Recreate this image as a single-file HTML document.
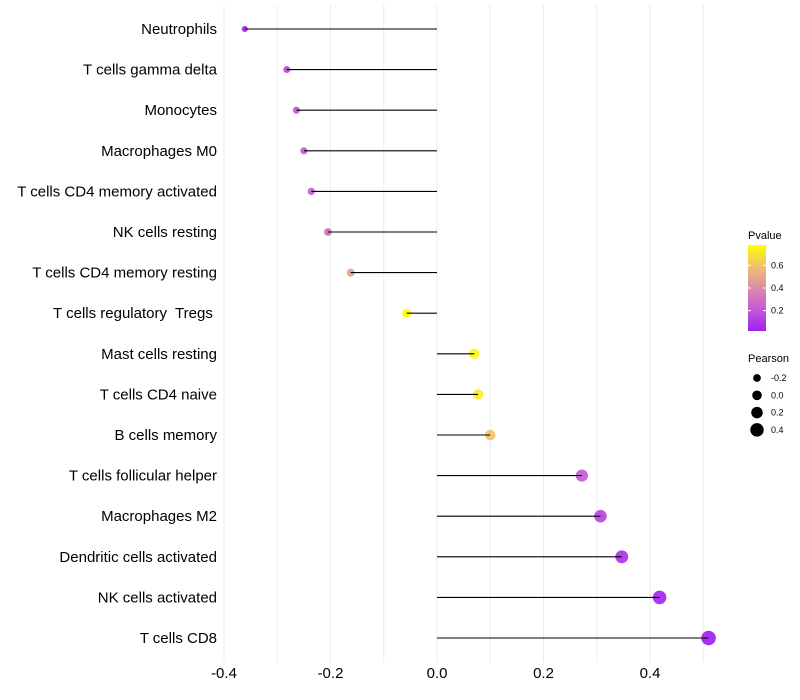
<!DOCTYPE html>
<html><head><meta charset="utf-8"><style>
body{margin:0;background:#fff;}
svg{display:block;font-family:"Liberation Sans",sans-serif;}
</style></head><body>
<svg id="chart" width="800" height="700"></svg>
<script>
const categories=["Neutrophils","T cells gamma delta","Monocytes","Macrophages M0","T cells CD4 memory activated","NK cells resting","T cells CD4 memory resting","T cells regulatory  Tregs ","Mast cells resting","T cells CD4 naive","B cells memory","T cells follicular helper","Macrophages M2","Dendritic cells activated","NK cells activated","T cells CD8"];
const pearson=[-0.361,-0.282,-0.264,-0.250,-0.236,-0.205,-0.162,-0.057,0.070,0.077,0.100,0.272,0.307,0.347,0.418,0.510];
const pvalues=[0.04,0.14,0.2,0.21,0.22,0.3,0.48,0.78,0.74,0.72,0.6,0.22,0.14,0.08,0.04,0.02];
const xTicks=[-0.4,-0.2,0.0,0.2,0.4];
const xMinor=[-0.3,-0.1,0.1,0.3,0.5];
const pTicks=[0.2,0.4,0.6];
const sizeTicks=[-0.2,0.0,0.2,0.4];

const NS="http://www.w3.org/2000/svg";
const svg=document.getElementById('chart');
function mk(tag,attrs,parent){const e=document.createElementNS(NS,tag);for(const k in attrs)e.setAttribute(k,attrs[k]);(parent||svg).appendChild(e);return e;}
const x=v=>437+v*532.5;
const y=i=>29+i*40.6;
const r=v=>4.8+4.8*v;
const stops=[[160,32,240],[196,90,216],[220,140,168],[240,192,112],[255,255,0]];
const pcol=p=>{let t=Math.max(0,Math.min(1,(p-0.02)/0.76))*(stops.length-1);const k=Math.min(stops.length-2,Math.floor(t));const f=t-k;
return `rgb(${stops[k].map((c,i)=>Math.round(c+(stops[k+1][i]-c)*f)).join(',')})`;};

const grid=mk('g',{});


xMinor.concat(xTicks).forEach(v=>{const l=mk('line',{x1:x(v),x2:x(v),y1:5,y2:662,stroke:'#ebebeb','stroke-width':1},grid);

});

const xa=mk('g',{});


xTicks.forEach(v=>{const t=mk('text',{x:x(v),y:678,'text-anchor':'middle','font-size':15,fill:'#000'},xa);t.textContent=v.toFixed(1);

});

const marks=mk('g',{});


categories.forEach((c,i)=>{
  const t=mk('text',{x:217,y:y(i)+5,'text-anchor':'end','font-size':15,fill:'#000','xml:space':'preserve'});t.textContent=c;
  t.style.whiteSpace='pre';
  
  
  const pt=mk('circle',{cx:x(pearson[i]),cy:y(i),r:r(pearson[i]),fill:pcol(pvalues[i]),'fill-opacity':0.92},marks);
  
  
  const l=mk('line',{x1:x(0),x2:x(pearson[i]),y1:y(i),y2:y(i),stroke:'#000','stroke-width':1.1},marks);
  
  
});

const lg=mk('g',{});


const d=mk('defs',{},lg);const g=mk('linearGradient',{id:'gr',x1:0,y1:1,x2:0,y2:0},d);
stops.forEach((s,i)=>mk('stop',{offset:i/(stops.length-1),'stop-color':`rgb(${s.join(',')})`},g));
const lt=mk('text',{x:748,y:239,'font-size':11},lg);lt.textContent='Pvalue';


const bar=mk('rect',{x:748,y:245,width:18,height:86,fill:'url(#gr)'},lg);


const py=p=>331-(p-0.02)/0.76*86;
pTicks.forEach(p=>{mk('line',{x1:748,x2:751,y1:py(p),y2:py(p),stroke:'#fff'},lg);mk('line',{x1:763,x2:766,y1:py(p),y2:py(p),stroke:'#fff'},lg);
const t=mk('text',{x:771,y:py(p)+3,'font-size':9},lg);t.textContent=p.toFixed(1);

});

const sg=mk('g',{});


const st=mk('text',{x:748,y:362,'font-size':11},sg);st.textContent='Pearson';


sizeTicks.forEach((v,i)=>{const cy=378+i*17.3;
const c=mk('circle',{cx:757,cy:cy,r:r(v),fill:'#000'},sg);


const t=mk('text',{x:771,y:cy+3,'font-size':9},sg);t.textContent=v.toFixed(1);

});
</script>
</body></html>
